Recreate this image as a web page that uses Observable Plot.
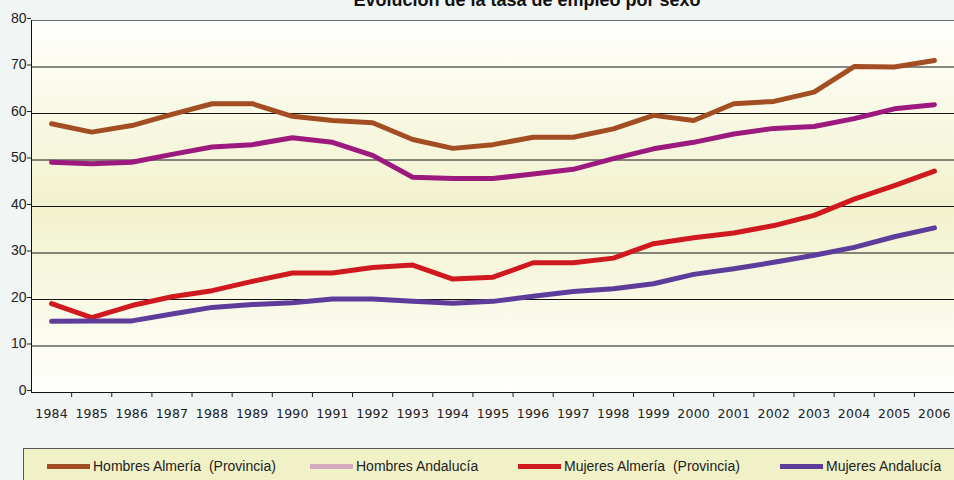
<!DOCTYPE html>
<html><head><meta charset="utf-8">
<script src="https://cdn.jsdelivr.net/npm/d3@7"></script>
<script src="https://cdn.jsdelivr.net/npm/@observablehq/plot@0.6"></script>
<style>
body{margin:0;background:#F1F5F4;font-family:"Liberation Sans",Arial,sans-serif;}
#wrap{position:relative;width:954px;height:480px;overflow:hidden;background:#F1F5F4}
#chart{position:absolute;left:0;top:0}
#title{position:absolute;left:100px;width:854px;top:-9px;text-align:center;font-weight:bold;font-size:18px;line-height:18px;color:#111;white-space:nowrap}
#legend{position:absolute;left:23px;top:448px;width:960px;height:50px;box-sizing:border-box;border:1px solid #555;background:#F1F1C8}
.sw{position:absolute;height:5px;width:43px;top:464px}
.lt{position:absolute;top:458px;font-size:14px;line-height:16px;color:#222;white-space:pre}
#chart svg g.xlab text{letter-spacing:0.2px}
</style></head><body>
<div id="wrap">
<div id="chart"></div>
<div id="title">Evolución de la tasa de empleo por sexo</div>
<div id="legend"></div>
<div id="legitems"></div>
</div>
<script>
const years = [1984,1985,1986,1987,1988,1989,1990,1991,1992,1993,1994,1995,1996,1997,1998,1999,2000,2001,2002,2003,2004,2005,2006];
const hombresAlmeria = [57.8,56.0,57.4,59.8,62.1,62.1,59.4,58.5,58.0,54.4,52.5,53.3,54.9,54.9,56.7,59.6,58.5,62.1,62.6,64.6,70.1,70.0,71.4];
const hombresAndalucia = [49.5,49.2,49.5,51.2,52.8,53.3,54.8,53.8,51.0,46.3,46.0,46.0,47.0,48.0,50.3,52.4,53.8,55.6,56.8,57.2,58.9,61.0,61.9];
const mujeresAlmeria = [19.1,16.1,18.7,20.6,21.9,23.9,25.7,25.7,26.9,27.4,24.4,24.8,27.9,27.9,28.9,32.0,33.3,34.3,35.9,38.1,41.6,44.5,47.6];
const mujeresAndalucia = [15.3,15.4,15.4,16.9,18.3,18.9,19.3,20.1,20.1,19.6,19.2,19.6,20.7,21.7,22.3,23.4,25.4,26.6,28.0,29.5,31.2,33.5,35.4];
const seriesNames = ["Hombres Almería  (Provincia)","Hombres Andalucía","Mujeres Almería  (Provincia)","Mujeres Andalucía"];
const seriesColors = ["#A24E22","#9C1A7E","#D0191F","#5E3C9A"];
const legendColors = ["#A24E22","#D6A9C3","#D0191F","#5E3C9A"];
const yTicks = [0,10,20,30,40,50,60,70,80];

const seriesValues = [hombresAlmeria, hombresAndalucia, mujeresAlmeria, mujeresAndalucia];
const data = [];
seriesValues.forEach((vals, i) => vals.forEach((v, j) => data.push({serie: seriesNames[i], year: years[j], value: v})));
const boundaries = years.slice(0, -1).map(y => y + 0.5);

const defs = () => {
  const d = d3.create("svg:defs");
  const g = d.append("linearGradient").attr("id", "bggrad").attr("x1", 0).attr("x2", 0).attr("y1", 0).attr("y2", 1);
  g.append("stop").attr("offset", "0%").attr("stop-color", "#FFFFFD");
  g.append("stop").attr("offset", "50%").attr("stop-color", "#F2F2CE");
  g.append("stop").attr("offset", "100%").attr("stop-color", "#FFFFFD");
  return d.node();
};

const chart = Plot.plot({
  width: 954, height: 440,
  marginTop: 20, marginLeft: 31, marginRight: 0, marginBottom: 48,
  style: {background: "transparent", fontFamily: "'DejaVu Sans', sans-serif", fontSize: "12px", color: "#222", overflow: "visible"},
  x: {type: "linear", domain: [1983.5, 2006.5], axis: null},
  y: {domain: [0, 80], axis: null},
  color: {domain: seriesNames, range: seriesColors},
  marks: [
    defs,
    Plot.frame({fill: "url(#bggrad)", stroke: null}),
    Plot.ruleY(yTicks.filter(t => t > 0 && t < 80), {stroke: "#141414", strokeWidth: 1}),
    Plot.ruleY([80], {stroke: "#707070", strokeWidth: 1}),
    Plot.ruleY([0], {stroke: "#111", strokeWidth: 1}),
    Plot.ruleX([1983.5], {stroke: "#111", strokeWidth: 1}),
    Plot.axisY({ticks: yTicks, tickSize: 4, tickPadding: 1, dy: -2, fontSize: 14, fontFamily: "'Liberation Sans', Arial, sans-serif", fill: "#222", label: null}),
    Plot.axisX({ticks: boundaries, tickSize: 5, tickFormat: () => "", label: null}),
    Plot.text(years, {x: d => d, frameAnchor: "bottom", dy: 25, text: d => String(d), fontSize: 12.5, fill: "#222", className: "xlab"}),
    Plot.line(data, {x: "year", y: "value", stroke: "serie", z: "serie", strokeWidth: 5, strokeLinejoin: "round", strokeLinecap: "round"})
  ]
});
document.getElementById("chart").append(chart);

const swatchLefts = [47, 310, 518, 780];
const li = document.getElementById("legitems");
seriesNames.forEach((n, i) => {
  const s = document.createElement("div");
  s.className = "sw"; s.style.left = swatchLefts[i] + "px"; s.style.background = legendColors[i];
  li.append(s);
  const t = document.createElement("div");
  t.className = "lt"; t.style.left = (swatchLefts[i] + 46) + "px"; t.textContent = n;
  li.append(t);
});
</script>
</body></html>
